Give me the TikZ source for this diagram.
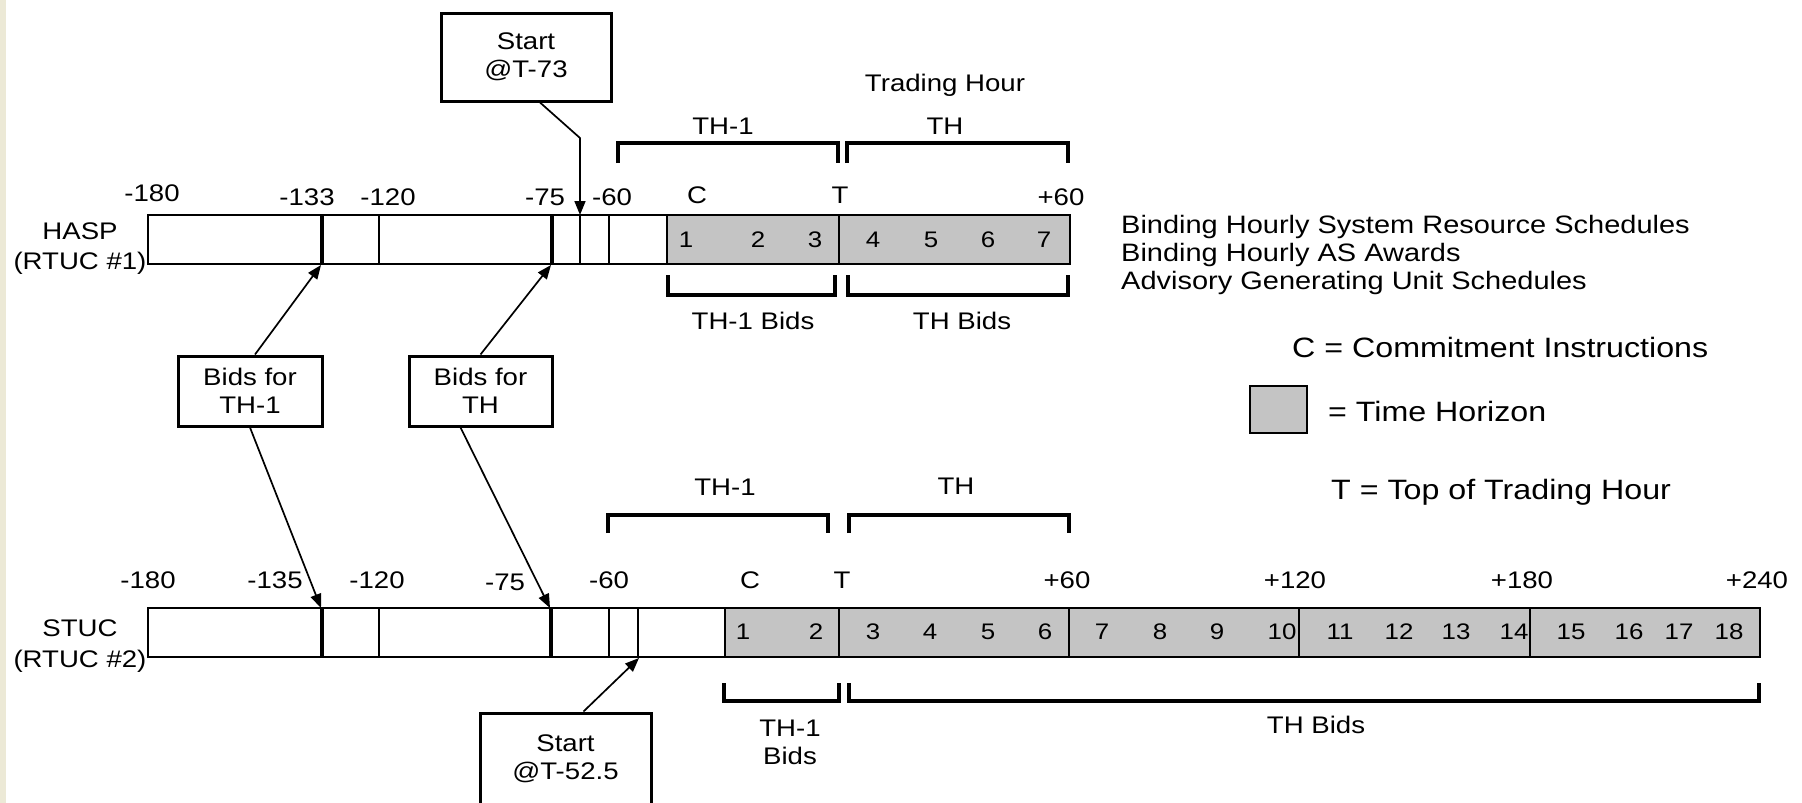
\documentclass[tikz,border=0pt]{standalone}
\usepackage{fontspec}
\setmainfont{Liberation Sans}[FakeStretch=1.15]
\usetikzlibrary{arrows.meta}
\definecolor{thgrey}{RGB}{196,196,196}
\definecolor{stripbeige}{RGB}{236,233,214}
\newcommand\fsmain{\fontsize{24}{28}\selectfont}
\newcommand\fsside{\fontsize{25.2}{28}\selectfont}
\newcommand\fscell{\fontsize{22.5}{26}\selectfont}
\newcommand\fsleg{\fontsize{28}{33}\selectfont}
\begin{document}
\begin{tikzpicture}[x=1pt,y=-1pt,
  lab/.style={inner sep=0pt, font=\fsmain, text height=17pt, text depth=0pt},
  cell/.style={inner sep=0pt, font=\fscell, text height=16pt, text depth=0pt},
  leg/.style={inner sep=0pt, font=\fsside, text height=18pt, text depth=0pt, anchor=west},
  legbig/.style={inner sep=0pt, font=\fsleg, text height=20pt, text depth=0pt, anchor=west},
  bx/.style={draw, line width=3pt, align=center, font=\fsmain, inner sep=0pt},
  bar/.style={draw, line width=1.6pt},
  tickthin/.style={line width=2.4pt},
  tickthick/.style={line width=4.2pt},
  brk/.style={line width=3.4pt},
  arr/.style={line width=1.7pt, -{Triangle[length=14pt,width=11pt]}},
]
\fill[white] (0,0) rectangle (1802,803);
\fill[stripbeige] (0,0) rectangle (6,803);
\useasboundingbox (0,0) rectangle (1802,803);

% ================= HASP =================
\fill[thgrey] (667,215) rectangle (1070,264);
\draw[bar] (148,215) rectangle (1070,264);
\draw[bar] (667,215) -- (667,264);
\draw[tickthick] (322,215) -- (322,264);
\draw[tickthin] (379,215) -- (379,264);
\draw[tickthick] (552,215) -- (552,264);
\draw[tickthin] (580,215) -- (580,264);
\draw[tickthin] (609,215) -- (609,264);
\draw[tickthin] (839,215) -- (839,264);

\node[lab] (hasp) at (80,231) {HASP};
\node[lab] (rtuc1) at (80,261) {(RTUC \#1)};
\node[lab] (ha180) at (152,193) {-180};
\node[lab] (ha133) at (307,197) {-133};
\node[lab] (ha120) at (388,197) {-120};
\node[lab] (ha75) at (545,197) {-75};
\node[lab] (ha60) at (612,197) {-60};
\node[lab] (haC) at (697,195) {C};
\node[lab] (haT) at (840,195) {T};
\node[lab] (hap60) at (1061,197) {+60};

\foreach \n/\x in {1/686,2/758,3/815,4/873,5/931,6/988,7/1044}
  \node[cell] (hc\n) at (\x,239) {\n};

\node[lab] (trh) at (945,83) {Trading Hour};
\node[lab] (hth1) at (723,126) {TH-1};
\node[lab] (hth) at (945,126) {TH};
\draw[brk] (618,163) -- (618,143) -- (838,143) -- (838,163);
\draw[brk] (847,163) -- (847,143) -- (1068,143) -- (1068,163);

\draw[brk] (668,275) -- (668,295) -- (835,295) -- (835,275);
\draw[brk] (848,275) -- (848,295) -- (1068,295) -- (1068,275);
\node[lab] (hth1b) at (753,321) {TH-1 Bids};
\node[lab] (hthb) at (962,321) {TH Bids};

% legend
\node[leg] (l1) at (1121,224) {Binding Hourly System Resource Schedules};
\node[leg] (l2) at (1121,252) {Binding Hourly AS Awards};
\node[leg] (l3) at (1121,280) {Advisory Generating Unit Schedules};
\node[legbig] (lc) at (1292,347) {C = Commitment Instructions};
\node[draw, fill=thgrey, line width=1.5pt, minimum width=57pt, minimum height=47pt, inner sep=0pt] (sq) at (1278.5,409.5) {};
\node[legbig] (lth) at (1328,411) {= Time Horizon};
\node[legbig] (lt) at (1331,489) {T = Top of Trading Hour};

% boxes
\node[bx, minimum width=170pt, minimum height=88pt] (s1) at (526,57) {Start\\@T-73};
\node[bx, minimum width=144pt, minimum height=70pt] (b1) at (250,391) {Bids for\\TH-1};
\node[bx, minimum width=143pt, minimum height=70pt] (b2) at (480.5,391) {Bids for\\TH};
\node[bx, minimum width=171pt, minimum height=92pt] (s2) at (565.5,759) {Start\\@T-52.5};

% ================= STUC =================
\fill[thgrey] (725,608) rectangle (1760,657);
\draw[bar] (148,608) rectangle (1760,657);
\draw[bar] (725,608) -- (725,657);
\draw[tickthick] (322,608) -- (322,657);
\draw[tickthin] (379,608) -- (379,657);
\draw[tickthick] (551,608) -- (551,657);
\draw[tickthin] (609,608) -- (609,657);
\draw[tickthin] (638,608) -- (638,657);
\foreach \x in {839,1069,1299,1530}
  \draw[tickthin] (\x,608) -- (\x,657);

\node[lab] (stuc) at (80,628) {STUC};
\node[lab] (rtuc2) at (80,659) {(RTUC \#2)};
\node[lab] (sa180) at (148,580) {-180};
\node[lab] (sa135) at (275,580) {-135};
\node[lab] (sa120) at (377,580) {-120};
\node[lab] (sa75) at (505,582) {-75};
\node[lab] (sa60) at (609,580) {-60};
\node[lab] (saC) at (750,580) {C};
\node[lab] (saT) at (842,580) {T};
\node[lab] (sap60) at (1067,580) {+60};
\node[lab] (sap120) at (1295,580) {+120};
\node[lab] (sap180) at (1522,580) {+180};
\node[lab] (sap240) at (1757,580) {+240};

\foreach \n/\x in {1/743,2/816,3/873,4/930,5/988,6/1045,7/1102,8/1160,9/1217,10/1282,11/1340,12/1399,13/1456,14/1514,15/1571,16/1629,17/1679,18/1729}
  \node[cell] (sc\n) at (\x,631) {\n};

\node[lab] (sth1) at (725,487) {TH-1};
\node[lab] (sth) at (956,486) {TH};
\draw[brk] (608,533) -- (608,515) -- (828,515) -- (828,533);
\draw[brk] (849,533) -- (849,515) -- (1069,515) -- (1069,533);

\draw[brk] (724,683) -- (724,701) -- (839,701) -- (839,683);
\draw[brk] (849,683) -- (849,701) -- (1759,701) -- (1759,683);
\node[font=\fsmain, align=center, inner sep=0pt] (sth1b) at (790,742) {TH-1\\Bids};
\node[lab] (sthb) at (1316,725) {TH Bids};

% ================= connectors =================
\coordinate (h133) at (321,265);
\coordinate (h75) at (551,265);
\coordinate (hbend) at (580,138);
\coordinate (h73) at (580,215);
\coordinate (s135) at (321,608);
\coordinate (s75) at (550,608);
\coordinate (s52) at (639,658);

\draw[arr] (b1.north) ++(5,0) -- (h133);
\draw[arr] (b2.north) -- (h75);
\draw[arr] ([xshift=14pt]s1.south) -- (hbend) -- (h73);
\draw[arr] (b1.south) -- (s135);
\draw[arr] ([xshift=-20pt]b2.south) -- (s75);
\draw[arr] ([xshift=18pt]s2.north) -- (s52);
\end{tikzpicture}
\end{document}
